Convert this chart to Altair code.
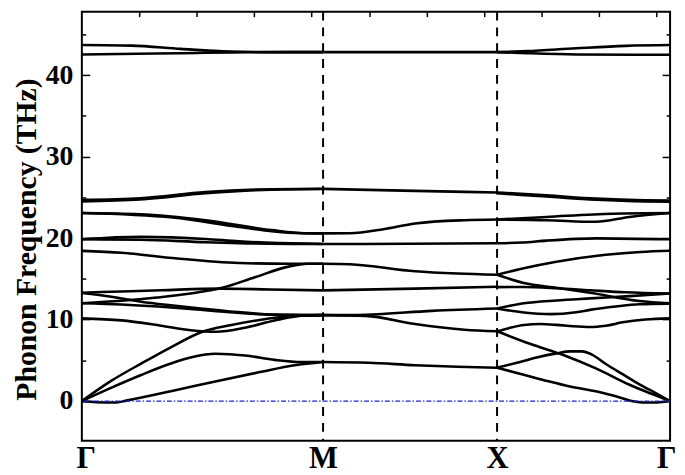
import altair as alt
import pandas as pd

# ---------------- data ----------------
# path coordinate (arbitrary units along Γ-M-X-Γ)
HSP_POS = [0, 244, 420, 595]
HSP_LABELS = ["Γ", "M", "X", "Γ"]
TOP_TICKS = [58.1, 116.2, 174.3, 232.4, 290.5, 348.6, 406.7, 464.8, 522.9, 581.0]
Y_LABELS = [0, 10, 20, 30, 40]
Y_TICKS = [0, 5, 10, 15, 20, 25, 30, 35, 40, 45]
Y_DOMAIN = [-4.87, 47.8]
X_DOMAIN = [0, 595]
ZERO_LINE = [0]

# Γ -> M
GM_BANDS = [
    [(0, 0), (15, -0.15), (35, -0.18), (45, 0.05), (90, 1.2), (135, 2.4), (180, 3.55), (215, 4.4), (244, 4.8)],
    [(0, 0), (30, 1.65), (60, 3.2), (90, 4.6), (112, 5.4), (135, 5.8), (165, 5.6), (195, 5.05), (222, 4.78), (244, 4.8)],
    [(0, 0), (30, 2.5), (60, 4.6), (90, 6.6), (122, 8.5), (150, 9.3), (180, 9.95), (210, 10.4), (244, 10.55)],
    [(0, 10.15), (40, 9.9), (80, 9.25), (110, 8.7), (136, 8.5), (165, 9.0), (195, 9.9), (225, 10.5), (244, 10.55)],
    [(0, 13.25), (30, 12.8), (60, 12.2), (90, 11.75), (120, 11.35), (150, 11.0), (194, 10.62), (244, 10.55)],
    [(0, 12.0), (40, 11.85), (77, 11.6), (110, 11.3), (144, 10.95), (194, 10.6), (244, 10.55)],
    [(0, 12.0), (40, 12.3), (76, 12.7), (110, 13.2), (142, 13.9), (175, 15.2), (209, 16.5), (228, 16.85), (244, 16.86)],
    [(0, 13.3), (40, 13.45), (80, 13.6), (140, 13.8), (190, 13.7), (244, 13.58)],
    [(0, 18.43), (40, 18.2), (92, 17.55), (159, 16.94), (210, 16.85), (244, 16.86)],
    [(0, 19.85), (59, 20.15), (125, 19.9), (159, 19.6), (200, 19.4), (244, 19.28)],
    [(0, 19.85), (59, 19.8), (125, 19.5), (160, 19.38), (244, 19.28)],
    [(0, 23.08), (59, 22.93), (125, 22.2), (192, 20.98), (225, 20.6), (244, 20.58)],
    [(0, 23.08), (92, 22.52), (159, 21.38), (209, 20.66), (244, 20.58)],
    [(0, 24.7), (59, 24.9), (125, 25.65), (192, 26.0), (244, 26.05)],
    [(0, 24.5), (59, 24.75), (125, 25.5), (192, 25.95), (244, 26.02)],
    [(0, 42.55), (100, 42.7), (170, 42.82), (244, 42.83)],
    [(0, 43.7), (50, 43.63), (100, 43.23), (150, 42.9), (190, 42.83), (244, 42.83)],
]

# M -> X
MX_BANDS = [
    [(244, 4.8), (290, 4.7), (337, 4.4), (380, 4.2), (420, 4.08)],
    [(244, 10.55), (287, 10.6), (354, 11.07), (420, 11.36)],
    [(244, 10.55), (287, 10.45), (337, 9.45), (387, 8.76), (420, 8.56)],
    [(244, 13.58), (337, 13.8), (420, 14.03)],
    [(244, 16.86), (271, 16.8), (337, 15.93), (380, 15.65), (420, 15.5)],
    [(244, 19.28), (330, 19.3), (420, 19.37)],
    [(244, 20.58), (271, 20.6), (305, 21.1), (337, 21.8), (387, 22.2), (420, 22.28)],
    [(244, 26.04), (337, 25.8), (420, 25.6)],
    [(244, 42.83), (420, 42.83)],
]

# X -> Γ
XG_BANDS = [
    [(420, 4.08), (445, 3.3), (471, 2.45), (495, 1.75), (521, 1.16), (545, 0.4), (556, 0.0), (567, -0.17), (582, -0.17), (595, 0)],
    [(420, 4.08), (440, 4.7), (460, 5.35), (480, 5.85), (494, 6.1), (506, 6.1), (516, 5.7), (530, 4.55), (547, 3.3), (564, 2.05), (580, 1.0), (595, 0)],
    [(420, 8.56), (454, 7.0), (487, 5.65), (520, 4.0), (554, 2.0), (575, 0.95), (595, 0)],
    [(420, 8.56), (432, 8.95), (447, 9.33), (464, 9.45), (480, 9.35), (497, 9.17), (514, 9.08), (530, 9.25), (547, 9.66), (570, 10.0), (595, 10.15)],
    [(420, 11.36), (447, 10.87), (474, 10.67), (500, 10.9), (514, 11.19), (540, 11.6), (564, 11.88), (595, 11.96)],
    [(420, 11.36), (447, 12.0), (480, 12.35), (514, 12.6), (550, 12.85), (595, 13.2)],
    [(420, 13.98), (447, 14.0), (480, 13.85), (514, 13.6), (550, 13.35), (595, 13.2)],
    [(420, 15.5), (447, 14.5), (480, 13.9), (514, 13.3), (564, 12.28), (595, 12.0)],
    [(420, 15.5), (447, 16.3), (480, 17.1), (530, 17.95), (565, 18.3), (595, 18.45)],
    [(420, 19.37), (445, 19.45), (470, 19.69), (520, 19.97), (595, 19.85)],
    [(420, 22.28), (470, 22.6), (537, 23.0), (595, 23.08)],
    [(420, 22.28), (470, 22.2), (520, 22.0), (554, 22.6), (595, 23.08)],
    [(420, 25.6), (470, 25.25), (520, 24.85), (570, 24.65), (595, 24.62)],
    [(420, 25.5), (470, 25.1), (520, 24.7), (570, 24.5), (595, 24.48)],
    [(420, 42.83), (450, 42.7), (500, 42.55), (595, 42.5)],
    [(420, 42.83), (450, 42.95), (500, 43.3), (550, 43.6), (595, 43.7)],
]

# ---------------- build table ----------------
rows = []
for seg_name, seg in (("GM", GM_BANDS), ("MX", MX_BANDS), ("XG", XG_BANDS)):
    for i, curve in enumerate(seg):
        for k, f in curve:
            rows.append({"band": f"{seg_name}{i}", "k": k, "f": f})
df = pd.DataFrame(rows)
df["high"] = df.groupby("band")["f"].transform("max") > 35

FONT = "Liberation Serif"
xs = alt.Scale(domain=X_DOMAIN, nice=False, zero=False)
ys = alt.Scale(domain=Y_DOMAIN, nice=False, zero=False)

label_expr = "".join(
    f"datum.value === {p} ? '{l}' : " for p, l in zip(HSP_POS, HSP_LABELS)
) + "''"

bottom_axis = alt.Axis(
    orient="bottom", values=HSP_POS, labelExpr=label_expr, ticks=False, tickSize=0,
    domain=False, grid=False, labelFont=FONT, labelFontWeight="bold", labelFontSize=31,
    labelColor="black", labelPadding=3, labelFlush=True, labelFlushOffset=6,
    labelOverlap=False, title=None,
)
top_tick_axis = alt.Axis(
    orient="bottom", offset=-434, values=TOP_TICKS, labels=False, domain=False,
    grid=False, tickSize=5, tickWidth=1.5, tickColor="black", title=None,
)
left_label_axis = alt.Axis(
    orient="left", values=Y_LABELS, ticks=False, tickSize=0, domain=False, grid=False,
    labelFont=FONT, labelFontSize=28, labelFontWeight="bold", labelColor="black",
    labelPadding=9, title="Phonon Frequency (THz)", titleFont=FONT, titleFontSize=30,
    titleFontWeight="bold", titleColor="black", titleAngle=270, titleX=-47, titleY=230,
    titleAlign="center", titleBaseline="alphabetic",
)
tick_size = {"condition": {"test": "datum.value % 10 === 0", "value": 8}, "value": 4}
left_tick_axis = alt.Axis(
    orient="right", offset=-595, values=Y_TICKS, labels=False, domain=False, grid=False,
    tickColor="black", tickWidth=1.5, tickSize=tick_size, title=None,
)
right_tick_axis = alt.Axis(
    orient="left", offset=-595, values=Y_TICKS, labels=False, domain=False, grid=False,
    tickColor="black", tickWidth=1.5, tickSize=tick_size, title=None,
)

line_style = dict(color="black", strokeWidth=2.6, interpolate="monotone", strokeJoin="round", clip=True)

low_bands = alt.Chart(df[~df["high"]]).mark_line(**line_style).encode(
    x=alt.X("k:Q", scale=xs, axis=bottom_axis),
    y=alt.Y("f:Q", scale=ys, axis=left_label_axis),
    detail="band:N",
    order="k:Q",
)
high_bands = alt.Chart(df[df["high"]]).mark_line(**line_style).encode(
    x=alt.X("k:Q", scale=xs, axis=None),
    y=alt.Y("f:Q", scale=ys, axis=right_tick_axis),
    detail="band:N",
    order="k:Q",
)
vlines = alt.Chart(pd.DataFrame({"k": HSP_POS[1:3]})).mark_rule(
    color="black", strokeWidth=2, strokeDash=[9, 7]
).encode(x=alt.X("k:Q", scale=xs, axis=top_tick_axis))

zero = alt.Chart(pd.DataFrame({"f": ZERO_LINE})).mark_rule(
    color="#2020d0", strokeWidth=1.2, strokeDash=[5, 2, 1.5, 2]
).encode(y=alt.Y("f:Q", scale=ys, axis=left_tick_axis))

chart = (
    alt.layer(vlines, low_bands, high_bands, zero)
    .resolve_axis(x="independent", y="independent")
    .properties(
        width=595, height=434,
        padding={"left": 74.7, "top": 1, "right": 7, "bottom": 32},
        autosize=alt.AutoSizeParams(type="none"),
        background="white",
    )
    .configure_view(stroke="black", strokeWidth=2)
)

chart.save("out.html", embed_options={"renderer": "svg", "actions": False})
